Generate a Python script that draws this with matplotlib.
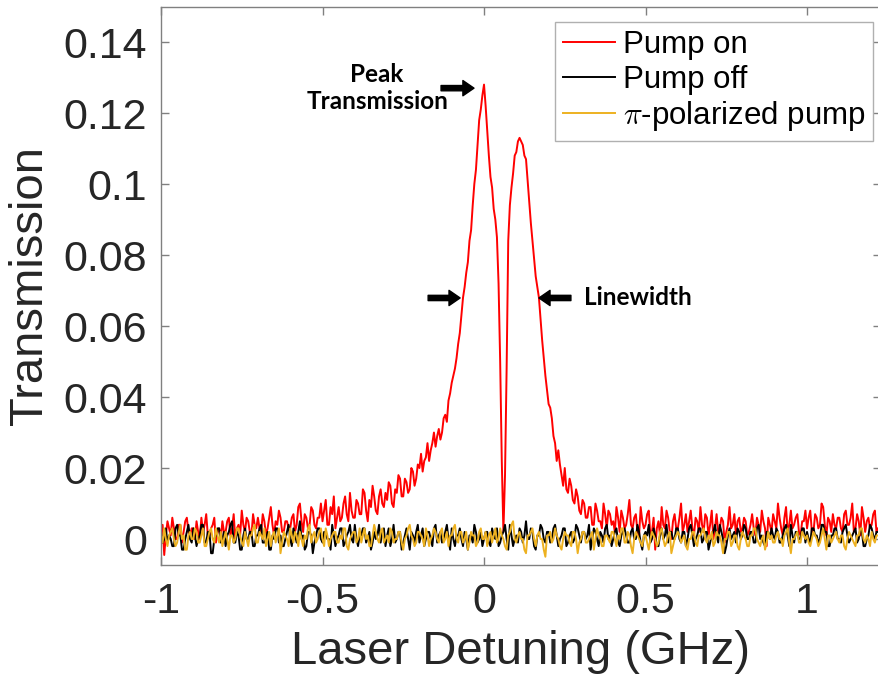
import numpy as np
import matplotlib.pyplot as plt

plt.rcParams['font.family'] = ['Liberation Sans', 'DejaVu Sans']
plt.rcParams['axes.unicode_minus'] = False
plt.rcParams['mathtext.fontset'] = 'cm'

# laser detuning grid (GHz), 5 MHz steps
detuning = np.linspace(-1.0, 1.22, 445)

# transmission traces, in units of 1e-3
pump_on = [
    2, 4, -4.5, 1, 5, 3, 1, 6, 3, 0, 0, 4, 4, -1, 2, 5, 6, 2, 1, 3,
    3, 0, 5, 2, 0, 6, 2, 4, 7, 1, 1, 3, 4, 6, -1, 2, 3, 0, 5, 2,
    2, 5, 6, 1, 3, 7, 0, 3, 4, 1, 8, 4, 2, 6, 5, 2, 1, 7, 4, 3,
    6, 3, 2, 7, 5, 1, 3, 6, 9, 4, 1, 5, 4, 8, 6, 2, 2, 5, 5, 3,
    3, 6, 7, 2, 4, 9, 10, 5, 2, 7, 6, 3, 4, 9, 8, 4, 3, 6, 6, 10,
    5, 8, 11, 4, 4, 9, 7, 12, 3, 6, 9, 5, 6, 10, 12, 7, 5, 13, 8, 6,
    6, 11, 10, 7, 7, 14, 13, 8, 5, 11, 9, 15, 12, 8, 7, 12, 14, 10, 9, 13,
    11, 16, 15, 10, 9, 14, 13, 18, 17, 12, 12, 17, 16, 13, 14, 20, 19, 15, 17, 21,
    20, 24, 19, 22, 23, 27, 22, 25, 27, 30, 26, 29, 31, 28, 30, 34, 35, 33, 39, 41,
    44, 46, 48, 51, 55, 58, 63, 68, 71, 75, 78, 84, 87, 94, 100, 104, 111, 118, 121, 125,
    128, 122, 115, 108, 102, 99, 93, 90, 85, 72, 50, 22, 2, 18, 48, 84, 94, 99, 103, 108,
    109, 112, 113, 112, 111, 108, 107, 101, 95, 89, 84, 79, 74, 71, 68, 62, 56, 51, 46, 42,
    38, 37, 34, 29, 27, 22, 25, 21, 18, 15, 20, 14, 13, 17, 15, 11, 10, 14, 12, 8,
    7, 11, 10, 6, 6, 9, 9, 4, 4, 10, 8, 5, 5, 3, 10, 7, 3, 8, 7, 4,
    5, 2, 9, 6, 2, 8, 6, 3, 4, 7, 11, 4, 3, 6, 7, 2, 1, 9, 5, 3,
    4, 7, 8, 1, 2, 6, -3, 3, 5, 1, 9, 4, 3, 8, 6, 2, 0, 5, 7, 3,
    3, 6, 10, 2, 4, 7, 2, 5, 8, 3, 1, 6, 5, 2, 9, 4, 2, 7, 6, 1,
    4, 8, 0, 3, 7, 2, 3, 6, 5, -1, 2, 4, 9, 3, 4, 7, 1, 5, 6, 2,
    3, 6, 5, 1, 2, 4, 7, 3, 1, 6, 4, 2, 8, 5, 3, -2, 6, 4, 2, 7,
    5, 3, 10, 6, 3, 1, 6, 9, 2, 4, 8, 3, 4, 6, 7, 2, 1, 5, 5, 8,
    3, 6, 8, 2, 2, 7, 6, 3, 4, 10, 9, 4, 1, 6, 5, 2, 7, 4, 3, 6,
    6, 3, 2, 7, 8, 4, 4, 6, 10, 2, 3, 7, 5, 1, 9, 6, 2, 5, 6, 3,
    4, 7, 8, 2, 3,
]
pump_off = [
    2, -1, 0, 3, -1, 1, 0, -2, -2, 3, 4, 1, 1, -3, -3, 0, 2, 4, 0, -1,
    3, 1, -2, 0, 1, 4, 4, -1, -1, 2, 2, -4, -4, 0, 1, 3, 3, -1, 0, 2,
    -2, 1, 2, 4, 5, -1, -1, 2, 1, -3, -3, 1, 3, 0, 0, 2, 2, -2, -2, 1,
    1, 3, 4, -1, -1, 0, 2, -3, -3, 1, 0, 3, 3, -1, 1, -2, -2, 0, 2, 4,
    0, -2, 3, 1, -1, 2, 5, 0, 1, -3, -2, 2, 2, 1, -4, -1, 1, 3, 3, 0,
    -1, 2, 2, 0, 0, -3, 4, 1, -2, 0, 1, 3, 3, -2, -1, 1, 2, 4, 0, -1,
    4, 0, -2, 1, 1, 3, 3, -1, 0, 2, -3, -1, 2, 0, 1, 4, -1, 2, 3, -2,
    1, 3, -2, 0, 4, -1, 0, 2, 2, -3, -1, 1, 3, 0, -3, 2, 1, -1, 2, 4,
    -1, 1, 3, -2, 0, 2, 2, 0, -2, 3, 4, -1, 1, 2, -1, 0, 2, 4, 0, -3,
    3, 0, -2, 1, 1, 3, 0, -2, 2, 0, -3, 1, 1, -1, 4, 2, -1, 0, 2, -2,
    0, 2, 2, -1, -2, 3, 1, 0, 3, -2, -1, 1, 2, 4, 0, -3, 4, 1, -2, 0,
    1, -1, 3, 2, -1, 1, 5, 0, 0, 3, 2, -2, -3, 1, 1, 4, 3, 0, -1, 2,
    2, -1, 0, 3, 4, 1, -2, 0, 1, 3, 3, -2, -1, 1, 2, -1, 0, 4, 3, 1,
    -1, 2, 2, 0, 1, 4, -3, 0, 3, 2, 0, -2, 2, 1, -1, 3, 4, 0, 1, -2,
    0, 2, 3, -1, -2, 1, 2, 3, 1, -1, -1, 2, 3, 0, 0, 4, 2, -1, -3, 1,
    2, 1, 4, -1, 0, 3, 1, -2, -2, 1, 3, 0, 1, 4, -1, 2, 2, 0, 0, 3,
    3, 0, -1, 2, 2, -2, 0, 3, 4, 1, -2, 0, 1, 3, 3, -1, 0, 2, 2, -3,
    -1, 1, 2, 4, 1, -1, 4, 2, 0, -4, -2, 1, 3, 0, 1, 2, -1, 3, 2, 0,
    1, 4, 3, 0, 0, 2, 2, -1, -1, 3, 4, 0, 1, -1, -2, 2, 2, 0, 3, 1,
    0, 3, 2, -1, -1, 1, 3, 4, 1, -2, 4, 1, -1, 2, 2, 0, 0, 3, 3, -1,
    2, 0, -1, 3, 3, 1, 1, -1, 0, 4, 4, 2, 2, -2, -2, 1, 1, 3, 3, 0,
    0, -1, 2, 3, 4, 1, -1, 0, 1, 2, 3, -1, 0, 3, 2, -2, -2, 0, 1, 4,
    3, 1, 0, 2, 2,
]
pi_pump = [
    1, -1, 3, 0, -2, 1, 2, 3, 0, -2, -1, 2, 4, 0, 1, -3, -3, 1, 2, 0,
    0, 3, 2, -1, -1, 1, 3, -2, -2, 0, 2, 3, 0, -1, 3, 1, -1, 2, -2, 0,
    2, 0, -3, 1, 1, -1, 0, 3, 3, 1, -1, -2, 2, 0, -2, 1, 1, 3, 4, -1,
    -1, 2, 1, 0, 3, -2, 0, 2, -2, 1, 2, -1, 1, 3, -4, -1, 2, 1, 0, -2,
    3, 1, -1, 2, 1, -2, 2, 0, -2, 1, 0, 3, 4, -1, 1, 2, -1, 0, 2, 3,
    0, -2, 3, 1, -2, 0, 1, 2, 2, -1, -1, 1, 0, 3, 3, -2, -3, 0, 1, 2,
    2, -1, 0, 3, -1, 1, 3, 0, 1, -2, -2, 1, 4, 2, 0, -1, 2, 3, -1, 0,
    1, -1, 3, 2, -1, 0, 0, 2, 2, -1, -3, 0, 1, 3, 4, 1, 0, -2, -1, 2,
    2, 1, 0, -2, 3, 1, -2, 0, 1, 3, 2, 0, -1, 2, 3, -1, 0, 2, -2, 1,
    1, 3, 4, 0, -1, 2, 2, -1, 0, 2, -3, -1, 2, 1, 1, -2, -1, 2, 3, 0,
    0, 2, -2, 1, 2, -1, 1, 3, -1, 0, 3, 1, 0, -2, -3, 1, 2, 4, 5, 0,
    -1, 1, 2, 0, 0, -3, -4, 1, 1, 2, 3, 0, -2, 1, 2, 0, 0, -3, -5, 1,
    1, 2, -1, 0, 3, 1, 0, -2, -3, 0, 2, 1, 1, -1, -2, 2, 2, 0, -4, -1,
    0, 2, 2, -1, -1, 0, 1, 2, -3, 0, 3, 1, 0, -2, -2, 1, 1, 0, -1, 2,
    2, 0, -2, 1, 0, 3, 3, -1, -1, 2, 1, -2, -4, 0, 2, 1, 0, -1, -2, 1,
    1, -1, -3, 0, 2, 1, 0, -2, -1, 2, 3, 0, -2, -1, 1, 2, -4, -2, 0, 1,
    2, 1, -1, 0, 1, -2, -3, 0, 0, 2, 2, -1, -2, 1, 1, 2, 3, 0, -1, 1,
    0, 2, -2, -1, 2, 1, 1, -1, -4, 0, 0, 2, 2, -2, -1, 1, 1, -2, -3, 0,
    2, 1, 0, -2, -2, 1, 1, 3, 3, 0, -1, -2, 0, 1, -3, -1, 2, 0, 1, -1,
    -1, 1, 2, 0, 0, -2, 1, 2, 3, -1, -4, 0, 0, 1, 2, -1, -1, 2, 1, 0,
    1, -1, -2, 0, 2, 1, 0, -2, -1, 1, 3, 0, -3, 1, 1, -1, 0, 1, 2, 0,
    -1, 1, 1, -2, -3, 0, 2, 1, 0, -1, -2, 1, 1, 3, 3, 0, -1, 1, 0, -2,
    2, 0, -1, 1, 1,
]

labels = ["Pump on", "Pump off", r"$\pi$-polarized pump"]
colors = ["#ff0000", "#000000", "#edb120"]
xticks = [-1, -0.5, 0, 0.5, 1]
yticks = [0, 0.02, 0.04, 0.06, 0.08, 0.1, 0.12, 0.14]

fig = plt.figure(figsize=(8.79, 6.86), dpi=100)
ax = fig.add_axes([161 / 879, 121 / 686, 720 / 879, 558 / 686])

for trace, label, color in zip([pump_on, pump_off, pi_pump], labels, colors):
    ax.plot(detuning, np.array(trace) / 1000, color=color, lw=1.4, label=label)

ax.set_xlim(-1, 1.229)
ax.set_ylim(-0.00732, 0.14986)
ax.set_xticks(xticks)
ax.set_xticklabels([f"{t:g}" for t in xticks])
ax.set_yticks(yticks)
ax.set_yticklabels([f"{t:g}" for t in yticks])
ax.tick_params(direction='in', length=6, width=1, color='#808080',
               labelsize=31, labelcolor='#262626', top=True, right=True)
ax.tick_params(axis='x', pad=12)
ax.tick_params(axis='y', pad=10)
for side in ax.spines.values():
    side.set_color('#808080')
    side.set_linewidth(1)

ax.set_xlabel("Laser Detuning (GHz)", fontsize=34, color='#262626', labelpad=6)
ax.set_ylabel("Transmission", fontsize=34, color='#262626', labelpad=8)

leg = ax.legend(loc='upper right', bbox_to_anchor=(0.989, 0.973),
                borderaxespad=0, fontsize=22.5, handlelength=1.65,
                handletextpad=0.25, labelspacing=0.15, borderpad=0.25,
                fancybox=False, framealpha=1)
leg.get_frame().set_edgecolor('#b0b0b0')
leg.get_frame().set_linewidth(1)
for txt in leg.get_texts():
    txt.set_color('#000000')

# callouts for peak height and linewidth
arrow = dict(arrowstyle='simple,head_width=1.1,head_length=0.8,tail_width=0.38',
             color='black', shrinkA=0, shrinkB=0, mutation_scale=10)
ax.annotate('', xy=(-0.031, 0.127), xytext=(-0.133, 0.127), arrowprops=arrow)
ax.annotate('', xy=(-0.074, 0.0679), xytext=(-0.173, 0.0679), arrowprops=arrow)
ax.annotate('', xy=(0.170, 0.0679), xytext=(0.269, 0.0679), arrowprops=arrow)
ax.text(-0.331, 0.127, "Peak\nTransmission", ha='center', va='center',
        family='Lato', fontweight='bold', fontsize=17.5, linespacing=1.2)
ax.text(0.310, 0.0679, "Linewidth", ha='left', va='center',
        family='Lato', fontweight='bold', fontsize=17.5)

plt.savefig("out.png", dpi=100)
plt.close()
